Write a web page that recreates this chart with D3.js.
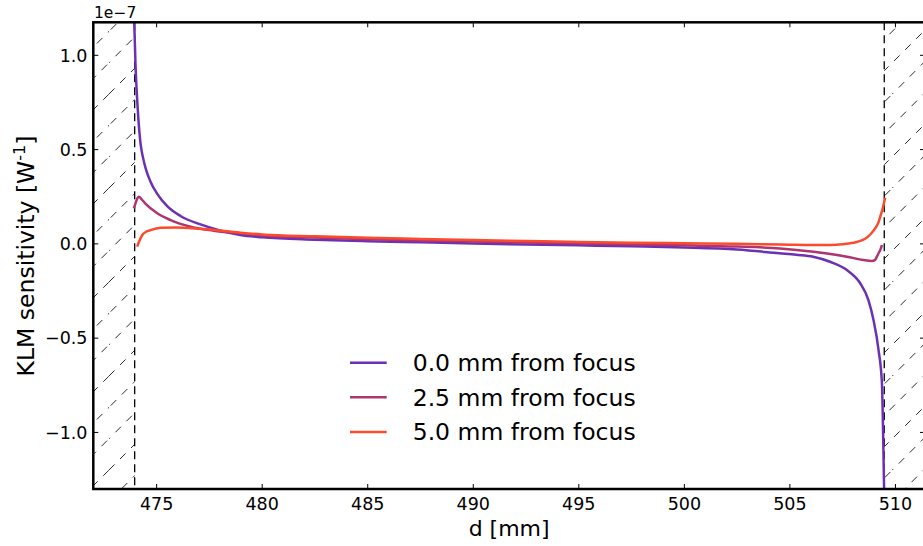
<!DOCTYPE html>
<html>
<head>
<meta charset="utf-8">
<script src="https://cdn.jsdelivr.net/npm/d3@7"></script>
<style>
  html, body { margin: 0; padding: 0; background: #fff; }
  svg { display: block; font-family: "DejaVu Sans", sans-serif; }
</style>
</head>
<body>
<svg id="chart" width="923" height="546"></svg>
<script>
// ---- data (sensitivity values in units of 1e-7 W^-1) ----
const xDomain = [472, 511.4];
const yDomain = [-1.3, 1.175];
const xTicks = [475, 480, 485, 490, 495, 500, 505, 510];
const yTicks = [-1.0, -0.5, 0.0, 0.5, 1.0];
const yTickLabels = ["\u22121.0", "\u22120.5", "0.0", "0.5", "1.0"];
const offsetLabel = "1e\u22127";
const boundaryLeft = 473.96;
const boundaryRight = 509.47;

const seriesNames = ["0.0 mm from focus", "2.5 mm from focus", "5.0 mm from focus"];
const seriesColors = ["#6b31b5", "#ae3570", "#fd4a2c"];

const d00 = [473.90, 473.94, 474.00, 474.07, 474.14, 474.24, 474.35, 474.48, 474.71, 475.03, 475.50, 476.13, 477.08, 478.00, 478.97, 480.0, 482.5, 485.0, 487.5, 490.0, 492.5, 495.0, 497.5, 500.0, 502.5, 504.5, 505.3, 506.1, 506.9, 507.7, 508.33, 508.72, 508.96, 509.20, 509.36, 509.40, 509.43, 509.47];
const s00 = [1.25, 1.17, 0.95, 0.78, 0.656, 0.53, 0.46, 0.40, 0.33, 0.265, 0.20, 0.148, 0.103, 0.071, 0.047, 0.035, 0.022, 0.014, 0.008, 0.002, -0.003, -0.008, -0.013, -0.019, -0.030, -0.050, -0.058, -0.068, -0.095, -0.139, -0.209, -0.298, -0.404, -0.563, -0.74, -0.917, -1.093, -1.35];

const d25 = [473.92, 474.00, 474.08, 474.16, 474.30, 474.48, 475.03, 475.66, 476.61, 477.70, 478.97, 480.0, 482.5, 485.0, 487.5, 490.0, 492.5, 495.0, 497.5, 500.0, 502.5, 504.54, 506.12, 507.70, 508.49, 508.88, 509.04, 509.12, 509.20, 509.28, 509.36];
const s25 = [0.188, 0.215, 0.24, 0.25, 0.235, 0.212, 0.162, 0.126, 0.091, 0.07, 0.056, 0.045, 0.034, 0.025, 0.018, 0.012, 0.007, 0.002, -0.003, -0.008, -0.014, -0.024, -0.042, -0.068, -0.086, -0.091, -0.085, -0.068, -0.05, -0.033, -0.006];

const d50 = [474.08, 474.20, 474.32, 474.50, 474.71, 475.19, 475.98, 476.70, 477.40, 478.97, 480.0, 482.5, 485.0, 487.5, 490.0, 492.5, 495.0, 497.5, 500.0, 502.5, 504.54, 506.9, 507.5, 508.0, 508.4, 508.65, 508.85, 509.04, 509.18, 509.28, 509.40, 509.51];
const s50 = [-0.015, 0.02, 0.047, 0.064, 0.073, 0.085, 0.087, 0.083, 0.077, 0.059, 0.05, 0.04, 0.032, 0.026, 0.020, 0.015, 0.010, 0.006, 0.003, 0.0, -0.003, -0.006, -0.002, 0.006, 0.018, 0.034, 0.055, 0.082, 0.11, 0.144, 0.19, 0.244];

const seriesX = [d00, d25, d50];
const seriesY = [s00, s25, s50];

// ---- layout ----
const svg = d3.select("#chart");
const L = 93.3, T = 22.3, B = 489, R = 925;
const x = d3.scaleLinear().domain(xDomain).range([L, R]);
const y = d3.scaleLinear().domain(yDomain).range([B, T]);

svg.append("rect").attr("width", 923).attr("height", 546).attr("fill", "#fff");

const defs = svg.append("defs");
defs.append("clipPath").attr("id", "plotclip")
  .append("rect").attr("x", L).attr("y", T).attr("width", R - L).attr("height", B - T);

// hatch tile (matplotlib-like '/' hatch with dashed strokes)
const S = 94;
const pat = defs.append("pattern").attr("id", "hatch").attr("patternUnits", "userSpaceOnUse")
  .attr("x", 15).attr("y", 0).attr("width", S).attr("height", S);
const steps = d3.range(7).map(i => -0.5 + i / 6);
pat.selectAll("line").data(steps).join("line")
  .attr("x1", s => S * s).attr("y1", s => S * (1 + s))
  .attr("x2", s => S * (1 + s)).attr("y2", s => S * s)
  .attr("stroke", "#111").attr("stroke-width", 0.9)
  .attr("stroke-dasharray", "7.8,7.8");

const regions = [[xDomain[0], boundaryLeft], [boundaryRight, xDomain[1]]];
svg.append("g").selectAll("rect").data(regions).join("rect")
  .attr("x", r => x(r[0])).attr("y", T)
  .attr("width", r => x(r[1]) - x(r[0])).attr("height", B - T)
  .attr("fill", "url(#hatch)");

// boundary dashed lines
svg.append("g").selectAll("line").data([boundaryLeft, boundaryRight]).join("line")
  .attr("x1", d => x(d)).attr("x2", d => x(d)).attr("y1", T).attr("y2", B)
  .attr("stroke", "#000").attr("stroke-width", 1.3).attr("stroke-dasharray", "8,5");

// curves
const line = d3.line().curve(d3.curveMonotoneX);
const cg = svg.append("g").attr("clip-path", "url(#plotclip)");
seriesX.forEach((xs, i) => {
  const pts = xs.map((v, j) => [x(v), y(seriesY[i][j])]);
  cg.append("path").attr("d", line(pts)).attr("fill", "none")
    .attr("stroke", seriesColors[i]).attr("stroke-width", 2.5)
    .attr("stroke-linejoin", "round").attr("stroke-linecap", "butt");
});

// ticks (inward, all sides)
const tk = svg.append("g").attr("stroke", "#000").attr("stroke-width", 1);
xTicks.forEach(v => {
  tk.append("line").attr("x1", x(v)).attr("x2", x(v)).attr("y1", B).attr("y2", B - 5);
  tk.append("line").attr("x1", x(v)).attr("x2", x(v)).attr("y1", T).attr("y2", T + 5);
});
yTicks.forEach(v => {
  tk.append("line").attr("x1", L).attr("x2", L + 5).attr("y1", y(v)).attr("y2", y(v));
  tk.append("line").attr("x1", R).attr("x2", R - 5).attr("y1", y(v)).attr("y2", y(v));
});

// tick labels
svg.append("g").selectAll("text").data(xTicks).join("text")
  .attr("x", d => x(d)).attr("y", 510).attr("text-anchor", "middle")
  .attr("font-size", 17.5).text(d => d);
svg.append("g").selectAll("text").data(yTicks).join("text")
  .attr("x", 87.5).attr("y", d => y(d)).attr("dy", "0.36em").attr("text-anchor", "end")
  .attr("font-size", 17.5).text((d, i) => yTickLabels[i]);

svg.append("text").attr("x", 94).attr("y", 18).attr("font-size", 15.5).text(offsetLabel);

// axis labels
svg.append("text").attr("x", (L + R) / 2).attr("y", 536).attr("text-anchor", "middle")
  .attr("font-size", 22).text("d [mm]");
const yl = svg.append("text").attr("transform", "translate(33.5,256) rotate(-90)")
  .attr("text-anchor", "middle").attr("font-size", 23.5);
yl.append("tspan").text("KLM sensitivity [W");
yl.append("tspan").attr("baseline-shift", "super").attr("font-size", 16).text("-1");
yl.append("tspan").text("]");

// legend
const lg = svg.append("g");
const rowsY = [362.7, 397.3, 432];
seriesNames.forEach((n, i) => {
  lg.append("line").attr("x1", 350).attr("x2", 386.7).attr("y1", rowsY[i]).attr("y2", rowsY[i])
    .attr("stroke", seriesColors[i]).attr("stroke-width", 2.5);
  lg.append("text").attr("x", 412.7).attr("y", rowsY[i]).attr("dy", "0.36em")
    .attr("font-size", 23.5).text(n);
});

// frame
svg.append("rect").attr("x", L).attr("y", T).attr("width", R - L).attr("height", B - T)
  .attr("fill", "none").attr("stroke", "#000").attr("stroke-width", 2.5);
</script>
</body>
</html>
